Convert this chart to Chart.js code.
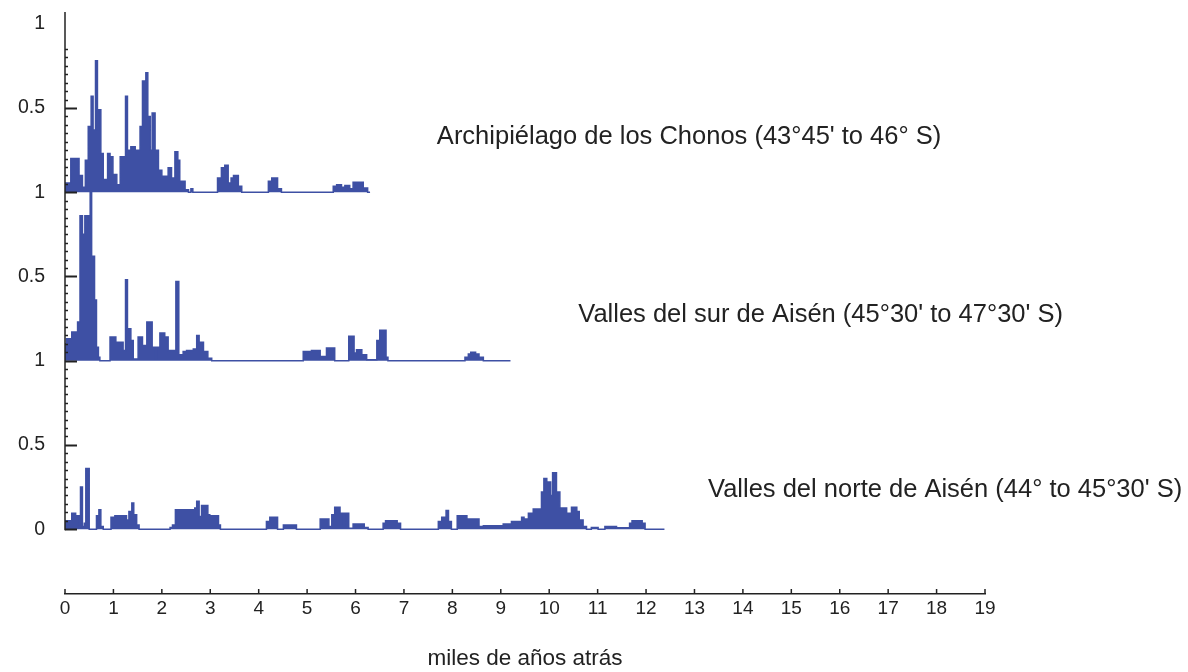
<!DOCTYPE html>
<html>
<head>
<meta charset="utf-8">
<script src="https://cdn.jsdelivr.net/npm/chart.js@4.4.1/dist/chart.umd.min.js"></script>
<style>
  html, body { margin: 0; padding: 0; background: #fff; }
</style>
</head>
<body>
<canvas id="myChart" width="1188" height="672"></canvas>
<script>
// frequency curves (x = start of each step, in ka)
const chonosX = [0, 0.12, 0.29, 0.36, 0.42, 0.48, 0.54, 0.58, 0.63, 0.67, 0.70, 0.74, 0.79, 0.88, 0.93, 0.99, 1.07, 1.14, 1.25, 1.29, 1.36, 1.45, 1.55, 1.60, 1.64, 1.67, 1.71, 1.76, 1.80, 1.86, 1.93, 2.00, 2.13, 2.20, 2.27, 2.33, 2.37, 2.48, 2.55, 2.60, 2.64, 3.15, 3.23, 3.30, 3.37, 3.43, 3.48, 3.58, 3.65, 4.20, 4.27, 4.39, 4.47, 5.54, 5.61, 5.71, 5.78, 5.88, 5.95, 6.16, 6.25, 6.30];
const chonosY = [0.055, 0.2, 0.1, 0.03, 0.19, 0.39, 0.57, 0.37, 0.78, 0.37, 0.49, 0.23, 0.075, 0.23, 0.21, 0.105, 0.045, 0.21, 0.57, 0.25, 0.27, 0.25, 0.39, 0.66, 0.55, 0.71, 0.45, 0.25, 0.47, 0.25, 0.13, 0.095, 0.145, 0.085, 0.24, 0.19, 0.065, 0.015, 0, 0.02, 0, 0.085, 0.145, 0.16, 0.055, 0.085, 0.1, 0.035, 0, 0.065, 0.085, 0.02, 0, 0.035, 0.045, 0.03, 0.04, 0.02, 0.06, 0.025, 0, 0];

const surX = [0, 0.03, 0.14, 0.26, 0.31, 0.36, 0.41, 0.45, 0.48, 0.52, 0.55, 0.61, 0.65, 0.69, 0.72, 0.93, 1.05, 1.20, 1.25, 1.29, 1.36, 1.41, 1.51, 1.60, 1.69, 1.80, 1.86, 1.89, 1.96, 2.06, 2.13, 2.29, 2.35, 2.44, 2.51, 2.65, 2.72, 2.77, 2.86, 2.95, 3.03, 4.92, 5.09, 5.27, 5.40, 5.57, 5.86, 5.97, 6.02, 6.13, 6.23, 6.44, 6.50, 6.63, 6.67, 8.26, 8.33, 8.38, 8.48, 8.55, 8.64, 9.20];
const surY = [0.1, 0.13, 0.17, 0.23, 0.86, 0.75, 0.86, 0.79, 0.86, 1.01, 0.62, 0.36, 0.08, 0.02, 0, 0.14, 0.11, 0.06, 0.48, 0.19, 0.12, 0.01, 0.14, 0.09, 0.23, 0.08, 0.01, 0.08, 0.165, 0.14, 0.06, 0.47, 0.035, 0.055, 0.06, 0.07, 0.15, 0.11, 0.055, 0.015, 0, 0.055, 0.06, 0.025, 0.075, 0, 0.145, 0.045, 0.065, 0.035, 0.005, 0.12, 0.18, 0.02, 0, 0.02, 0.04, 0.05, 0.04, 0.02, 0, 0];

const norteX = [0, 0.14, 0.22, 0.29, 0.32, 0.36, 0.40, 0.43, 0.50, 0.65, 0.70, 0.74, 0.79, 0.95, 1.03, 1.27, 1.32, 1.38, 1.42, 1.48, 1.53, 2.17, 2.22, 2.28, 2.68, 2.72, 2.77, 2.82, 2.95, 2.99, 3.17, 3.21, 4.16, 4.23, 4.39, 4.51, 4.78, 5.27, 5.45, 5.51, 5.57, 5.68, 5.75, 5.78, 5.86, 5.95, 6.18, 6.26, 6.57, 6.62, 6.86, 6.93, 7.71, 7.78, 7.87, 7.92, 7.98, 8.10, 8.30, 8.55, 8.64, 9.05, 9.22, 9.43, 9.48, 9.57, 9.67, 9.84, 9.89, 9.95, 9.98, 10.03, 10.07, 10.15, 10.22, 10.36, 10.46, 10.57, 10.62, 10.70, 10.77, 10.87, 11.01, 11.15, 11.39, 11.66, 11.71, 11.92, 11.98, 12.38];
const norteY = [0.05, 0.095, 0.08, 0.025, 0.25, 0.015, 0.035, 0.36, 0, 0.08, 0.115, 0.015, 0, 0.07, 0.08, 0.055, 0.105, 0.155, 0.085, 0.025, 0, 0.01, 0.025, 0.115, 0.125, 0.165, 0.075, 0.14, 0.085, 0.08, 0.025, 0, 0.045, 0.07, 0, 0.025, 0, 0.06, 0.015, 0.085, 0.13, 0.095, 0.025, 0.095, 0.005, 0.03, 0.01, 0, 0.035, 0.05, 0.035, 0, 0.045, 0.07, 0.11, 0.045, 0, 0.08, 0.06, 0.015, 0.02, 0.03, 0.045, 0.07, 0.06, 0.095, 0.12, 0.22, 0.3, 0.22, 0.28, 0.2, 0.335, 0.22, 0.125, 0.095, 0.13, 0.105, 0.055, 0.015, 0, 0.01, 0, 0.015, 0.008, 0.035, 0.05, 0.035, 0, 0];

const panelNames = ["Archipiélago de los Chonos (43°45' to 46° S)", "Valles del sur de Aisén (45°30' to 47°30' S)", "Valles del norte de Aisén (44° to 45°30' S)"];
const panelOffsets = [2, 1, 0];
const yTickValues = [0, 0.5, 1, 1.5, 2, 2.5, 3];
const yTickLabels = ['0', '0.5', '1', '0.5', '1', '0.5', '1'];
const xTickValues = [0, 1, 2, 3, 4, 5, 6, 7, 8, 9, 10, 11, 12, 13, 14, 15, 16, 17, 18, 19];

const blue = '#3e50a4';
const ink = '#222';

function makeSet(xs, ys, off) {
  return {
    data: xs.map((x, i) => ({ x: x, y: ys[i] + off })),
    stepped: 'before',
    borderColor: blue,
    backgroundColor: blue,
    borderWidth: 1.5,
    pointRadius: 0,
    fill: { value: off }
  };
}

// where the panel names sit, in data units
const namePos = [[7.68, 2.33], [10.6, 1.27], [13.28, 0.235]];

const axesPlugin = {
  id: 'axesPlugin',
  afterDraw(chart) {
    const ctx = chart.ctx;
    const xs = chart.scales.x, ys = chart.scales.y;
    const left = chart.chartArea.left;
    ctx.save();
    ctx.strokeStyle = ink;
    // y axis line
    ctx.lineWidth = 1.5;
    ctx.beginPath();
    ctx.moveTo(left, ys.getPixelForValue(0) + 1);
    ctx.lineTo(left, chart.chartArea.top);
    ctx.stroke();
    // minor ticks every 0.05, major every 0.5 (pointing inwards)
    for (let k = 0; k <= 57; k++) {
      const v = k * 0.05;
      const py = Math.round(ys.getPixelForValue(v)) + 0.5;
      const major = k % 10 === 0;
      ctx.lineWidth = major ? 2 : 1.5;
      ctx.beginPath();
      ctx.moveTo(left, py);
      ctx.lineTo(left + (major ? 12 : 3), py);
      ctx.stroke();
    }
    // x ticks pointing up
    const by = chart.chartArea.bottom;
    ctx.lineWidth = 1.5;
    xTickValues.forEach(v => {
      const px = xs.getPixelForValue(v);
      ctx.beginPath();
      ctx.moveTo(px, by);
      ctx.lineTo(px, by - 5);
      ctx.stroke();
    });
    // panel names
    ctx.fillStyle = ink;
    ctx.font = '25.5px "Liberation Sans", Arial, sans-serif';
    ctx.textBaseline = 'middle';
    ctx.textAlign = 'left';
    panelNames.forEach((t, i) => {
      ctx.fillText(t, xs.getPixelForValue(namePos[i][0]), ys.getPixelForValue(namePos[i][1]));
    });
    ctx.restore();
  }
};

const ctx = document.getElementById('myChart').getContext('2d');

const config = {
  type: 'line',
  data: {
    datasets: [
      makeSet(chonosX, chonosY, panelOffsets[0]),
      makeSet(surX, surY, panelOffsets[1]),
      makeSet(norteX, norteY, panelOffsets[2])
    ]
  },
  options: {
    responsive: false,
    animation: false,
    devicePixelRatio: 1,
    layout: { padding: { left: 10, right: 203, top: 12, bottom: 0 } },
    plugins: { legend: { display: false }, tooltip: { enabled: false } },
    scales: {
      x: {
        type: 'linear',
        min: 0,
        max: 19,
        afterBuildTicks: s => { s.ticks = xTickValues.map(v => ({ value: v })); },
        afterFit: s => { s.height = 78; s.paddingLeft = 0; s.paddingRight = 0; },
        ticks: { color: ink, font: { family: '"Liberation Sans", Arial', size: 19 }, padding: 3, maxRotation: 0 },
        grid: { display: false, drawTicks: false },
        border: { display: true, color: ink, width: 1.5 },
        title: {
          display: true,
          text: 'miles de años atrás',
          color: ink,
          font: { family: '"Liberation Sans", Arial', size: 22.5 },
          padding: { top: 25, bottom: 0 }
        }
      },
      y: {
        type: 'linear',
        min: -0.385,
        max: 3.07,
        afterBuildTicks: s => { s.ticks = yTickValues.map(v => ({ value: v })); },
        afterFit: s => { s.width = 55; s.paddingTop = 0; s.paddingBottom = 0; },
        ticks: {
          color: ink,
          font: { family: '"Liberation Sans", Arial', size: 19.5 },
          padding: 20,
          callback: (v, i) => yTickLabels[i]
        },
        grid: { display: false, drawTicks: false },
        border: { display: false }
      }
    }
  },
  plugins: [axesPlugin]
};

const myChart = new Chart(ctx, config);
</script>
</body>
</html>
